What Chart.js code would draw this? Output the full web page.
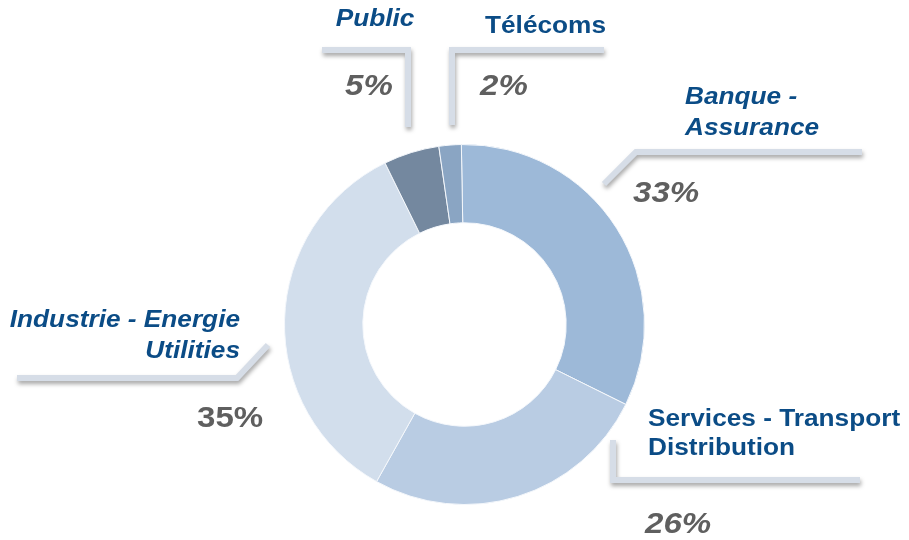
<!DOCTYPE html>
<html>
<head>
<meta charset="utf-8">
<script src="https://cdn.jsdelivr.net/npm/chart.js@4.4.1/dist/chart.umd.min.js"></script>
<style>
  body { margin: 0; background: #fff; }
  canvas { display: block; }
</style>
</head>
<body>
<canvas id="chart" width="909" height="540"></canvas>
<script>
const sectors = ['Banque - Assurance', 'Services - Transport Distribution', 'Industrie - Energie Utilities', 'Public', 'Télécoms'];
const shares = [32.6, 25.8, 34.6, 5.0, 2.0];
const shareLabels = ['33%', '26%', '35%', '5%', '2%'];
const sliceColors = ['#9db9d8', '#b9cce3', '#d2deec', '#74889f', '#8aa5c3'];

// Where each label block and its callout line sit.
const callouts = [
    { lines: ['Banque -', 'Assurance'], x: 685, y: [104, 135], align: 'left', italic: true,
      pct: { x: 633, y: 202, italic: true },
      path: [[604, 184], [636, 152], [862, 152]] },
    { lines: ['Services - Transport', 'Distribution'], x: 648, y: [426, 455], align: 'left', italic: false,
      pct: { x: 645, y: 533, italic: true },
      path: [[613, 440], [613, 480], [860, 480]] },
    { lines: ['Industrie - Energie', 'Utilities'], x: 240, y: [327, 358], align: 'right', italic: true,
      pct: { x: 197, y: 427, italic: false },
      path: [[268, 345], [237, 378], [17, 378]] },
    { lines: ['Public'], x: 375, y: [26], align: 'center', italic: true,
      pct: { x: 345, y: 95, italic: true },
      path: [[322, 50], [408, 50], [408, 127]] },
    { lines: ['Télécoms'], x: 485, y: [33], align: 'left', italic: false,
      pct: { x: 480, y: 95, italic: true },
      path: [[452, 125], [452, 50], [604, 50]] },
];

// the source text is a little wider than plain Arial
const STRETCH = 1.14;

function stretchedText(ctx, text, x, y) {
    ctx.save();
    ctx.translate(x, y);
    ctx.scale(STRETCH, 1);
    ctx.fillText(text, 0, 0);
    ctx.restore();
}

const calloutPlugin = {
    id: 'callouts',
    afterDraw(chart) {
        const ctx = chart.ctx;
        ctx.save();
        // callout lines, light with a soft shadow
        callouts.forEach((c) => {
            ctx.save();
            ctx.strokeStyle = '#d6dde7';
            ctx.lineWidth = 6;
            ctx.lineJoin = 'miter';
            ctx.lineCap = 'butt';
            ctx.shadowColor = 'rgba(0,0,0,0.35)';
            ctx.shadowBlur = 4;
            ctx.shadowOffsetX = 1;
            ctx.shadowOffsetY = 3;
            ctx.beginPath();
            c.path.forEach((p, i) => (i ? ctx.lineTo(p[0], p[1]) : ctx.moveTo(p[0], p[1])));
            ctx.stroke();
            ctx.restore();
        });
        // sector names and shares
        callouts.forEach((c, i) => {
            ctx.fillStyle = '#0b4c86';
            ctx.textAlign = c.align;
            ctx.textBaseline = 'alphabetic';
            ctx.font = (c.italic ? 'italic ' : '') + 'bold 23px "Liberation Sans", Arial, sans-serif';
            c.lines.forEach((t, j) => stretchedText(ctx, t, c.x, c.y[j]));
            ctx.fillStyle = '#5f5f5f';
            ctx.textAlign = 'left';
            ctx.font = (c.pct.italic ? 'italic ' : '') + 'bold 29px "Liberation Sans", Arial, sans-serif';
            stretchedText(ctx, shareLabels[i], c.pct.x, c.pct.y);
        });
        ctx.restore();
    }
};

new Chart(document.getElementById('chart'), {
    type: 'doughnut',
    data: {
        labels: sectors,
        datasets: [{
            data: shares,
            backgroundColor: sliceColors,
            borderColor: '#f4f7fb',
            borderWidth: 1,
        }],
    },
    options: {
        responsive: false,
        animation: false,
        rotation: -1,
        cutout: '56.5%',
        layout: { padding: { left: 284, right: 264, top: 144, bottom: 35 } },
        plugins: {
            legend: { display: false },
            tooltip: { enabled: false },
        },
    },
    plugins: [calloutPlugin],
});
</script>
</body>
</html>
